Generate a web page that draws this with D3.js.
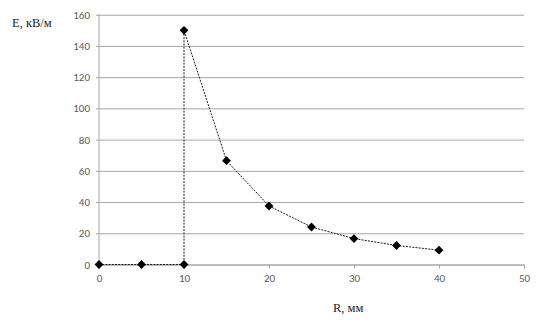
<!DOCTYPE html>
<html>
<head>
<meta charset="utf-8">
<script src="https://cdn.jsdelivr.net/npm/d3@7"></script>
<style>
  body { margin: 0; background: #fff; }
  .axis text { font-family: Carlito, "Open Sans", "Liberation Sans", sans-serif; font-size: 11px; fill: #595959; }
  .axis path, .axis line { stroke: #a6a6a6; }
  .unit-text { font-family: "Liberation Serif", "DejaVu Serif", serif; font-size: 12.5px; fill: #222; }
</style>
</head>
<body>
<div id="chart"></div>
<script>
// R, mm and E, kV/m
var rValues = [0, 5, 10, 10, 15, 20, 25, 30, 35, 40];
var eValues = [0, 0, 0, 150, 66.5, 37.5, 24, 16.6, 12.2, 9.2];
var xTicks = [0, 10, 20, 30, 40, 50];
var yTicks = [0, 20, 40, 60, 80, 100, 120, 140, 160];

var width = 557, height = 327;
var margin = {top: 14.7, right: 33, bottom: 62.5, left: 99};
var plotW = width - margin.left - margin.right;
var plotH = height - margin.top - margin.bottom;

var data = rValues.map(function(r, i) { return {r: r, e: eValues[i]}; });

var x = d3.scaleLinear().domain([0, 50]).range([0, plotW]);
var y = d3.scaleLinear().domain([0, 160]).range([plotH, 0]);

var svg = d3.select("#chart").append("svg")
    .attr("width", width)
    .attr("height", height)
    .append("g")
    .attr("transform", "translate(" + margin.left + "," + margin.top + ")");

// gridlines + y axis
var yAxis = d3.axisLeft(y).tickValues(yTicks).tickSize(-plotW).tickPadding(9);
svg.append("g")
    .attr("class", "y axis")
    .call(yAxis)
    .call(function(g) {
        g.select(".domain").remove();
        g.selectAll("line").attr("x1", -3).attr("stroke", "#a0a0a0");
    });

svg.append("line")
    .attr("x1", 0).attr("x2", 0)
    .attr("y1", 0).attr("y2", plotH)
    .attr("stroke", "#a6a6a6");

// x axis
var xAxis = d3.axisBottom(x).tickValues(xTicks).tickSizeOuter(0).tickSize(4).tickPadding(6);
svg.append("g")
    .attr("class", "x axis")
    .attr("transform", "translate(0," + plotH + ")")
    .call(xAxis);

// dashed line through points
var line = d3.line()
    .x(function(d) { return x(d.r); })
    .y(function(d) { return y(d.e); });

svg.append("path")
    .datum(data)
    .attr("fill", "none")
    .attr("stroke", "#1a1a1a")
    .attr("stroke-width", 1)
    .attr("stroke-dasharray", "2,1.2")
    .attr("d", line);

// diamond markers
svg.selectAll(".dot")
    .data(data)
    .enter().append("path")
    .attr("class", "dot")
    .attr("d", d3.symbol().type(d3.symbolDiamond2).size(50))
    .attr("transform", function(d) { return "translate(" + x(d.r) + "," + y(d.e) + ")"; })
    .attr("fill", "#000");

// axis titles
svg.append("text")
    .attr("class", "unit-text")
    .attr("x", 12 - margin.left)
    .attr("y", 27 - margin.top)
    .text("E, кВ/м");

svg.append("text")
    .attr("class", "unit-text")
    .attr("x", 333 - margin.left)
    .attr("y", 312 - margin.top)
    .text("R, мм");
</script>
</body>
</html>
